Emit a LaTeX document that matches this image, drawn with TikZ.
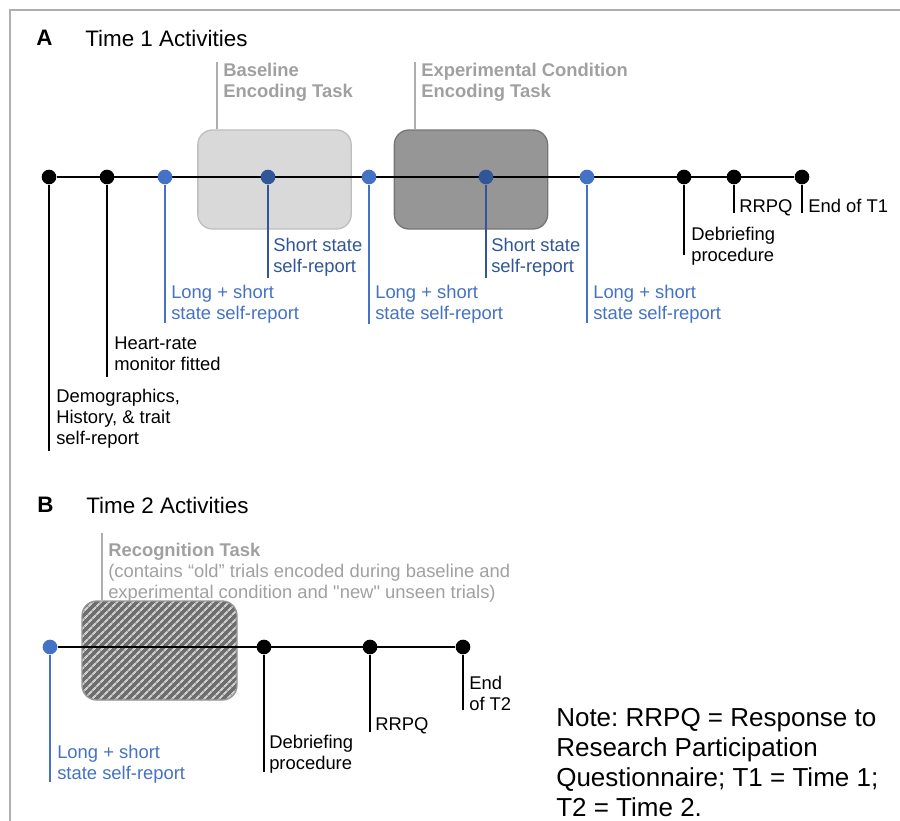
\documentclass[tikz,border=0pt]{standalone}
\usepackage{fontspec}
\setmainfont[Ligatures=TeXOff]{Liberation Sans}
\usetikzlibrary{patterns.meta,backgrounds}
\frenchspacing

\definecolor{evblue}{RGB}{68,114,196}
\definecolor{evdblue}{RGB}{48,86,152}
\definecolor{taskgray}{RGB}{160,160,160}
\definecolor{framegray}{RGB}{175,175,175}

\tikzset{
  evdot/.style={circle, fill=#1, inner sep=0pt, minimum size=11pt},
  evdot/.default=black,
  evdrop/.style={draw=#1, line width=1.5pt},
  evdrop/.default=black,
  evlbl/.style={anchor=north west, inner sep=0pt, align=left, text=#1,
    font=\fontsize{13.8pt}{15.8pt}\selectfont},
  evlbl/.default=black,
  tasklbl/.style={evlbl=taskgray},
  taskptr/.style={draw=taskgray!85, line width=1.2pt},
  taskbox/.style={rounded corners=11pt, line width=1pt,
    minimum width=115pt, minimum height=74.25pt, inner sep=0pt},
  tline/.style={line width=1.5pt},
  ttl/.style={anchor=north west, inner sep=0pt,
    font=\fontsize{16.8pt}{19pt}\selectfont}
}

\begin{document}
\begin{tikzpicture}[x=0.75pt, y=-0.75pt]
  \useasboundingbox (0,0) rectangle (900,821);
  \draw[framegray, line width=1.5pt] (10,821) -- (10,10) -- (900,10);

  % A: Time 1
  \node[ttl] (hdA) at (36,30) {\textbf{A}};
  \node[ttl] (ttlA) at (85,30) {Time 1 Activities};

  \node[evdot] (a1) at (49,177) {};
  \node[evdot] (a2) at (107,177) {};
  \node[evdot=evblue] (a3) at (165,177) {};
  \node[evdot=evdblue] (a4) at (268,177) {};
  \node[evdot=evblue] (a5) at (369,177) {};
  \node[evdot=evdblue] (a6) at (486,177) {};
  \node[evdot=evblue] (a7) at (587,177) {};
  \node[evdot] (a8) at (684,177) {};
  \node[evdot] (a9) at (734,177) {};
  \node[evdot] (a10) at (802,177) {};

  \begin{scope}[on background layer]
    \node[taskbox, fill={rgb,255:red,217;green,217;blue,217},
      draw={rgb,255:red,190;green,190;blue,190}] (basebox) at (274.5,179.5) {};
    \node[taskbox, fill={rgb,255:red,150;green,150;blue,150},
      draw={rgb,255:red,118;green,118;blue,118}] (expbox) at (471,179.5) {};
    \draw[tline] (a1) -- (a10);
  \end{scope}

  \coordinate (baseptr) at (217,62);
  \coordinate (expptr) at (415,62);
  \draw[taskptr] (basebox.north -| baseptr) -- (baseptr);
  \draw[taskptr] (expbox.north -| expptr) -- (expptr);
  \node[tasklbl] (basetxt) at (223,63) {\bfseries Baseline\\\bfseries Encoding Task};
  \node[tasklbl] (exptxt) at (421,63)
    {\bfseries Experimental Condition\\\bfseries Encoding Task};

  \coordinate (a1e) at (49,451);
  \coordinate (a2e) at (107,377);
  \coordinate (a3e) at (165,323);
  \coordinate (a4e) at (268,278);
  \coordinate (a5e) at (369,324);
  \coordinate (a6e) at (486,278);
  \coordinate (a7e) at (587,323);
  \coordinate (a8e) at (684,255);
  \coordinate (a9e) at (734,213);
  \coordinate (a10e) at (802,213);
  \draw[evdrop] (a1) -- (a1e);
  \draw[evdrop] (a2) -- (a2e);
  \draw[evdrop=evblue] (a3) -- (a3e);
  \draw[evdrop=evdblue] (a4) -- (a4e);
  \draw[evdrop=evblue] (a5) -- (a5e);
  \draw[evdrop=evdblue] (a6) -- (a6e);
  \draw[evdrop=evblue] (a7) -- (a7e);
  \draw[evdrop] (a8) -- (a8e);
  \draw[evdrop] (a9) -- (a9e);
  \draw[evdrop] (a10) -- (a10e);

  \node[evlbl] (l1) at (56,389) {Demographics,\\History, \& trait\\self-report};
  \node[evlbl] (l2) at (114,337) {Heart-rate\\monitor fitted};
  \node[evlbl=evblue] (l3) at (171,285) {Long + short\\state self-report};
  \node[evlbl=evdblue] (l4) at (273,238) {Short state\\self-report};
  \node[evlbl=evblue] (l5) at (375,285) {Long + short\\state self-report};
  \node[evlbl=evdblue] (l6) at (491,238) {Short state\\self-report};
  \node[evlbl=evblue] (l7) at (593,285) {Long + short\\state self-report};
  \node[evlbl] (l8) at (691,227) {Debriefing\\procedure};
  \node[evlbl] (l9) at (739,199) {RRPQ};
  \node[evlbl] (l10) at (808,199) {End of T1};

  % B: Time 2
  \node[ttl] (hdB) at (37,497) {\textbf{B}};
  \node[ttl] (ttlB) at (86,497) {Time 2 Activities};

  \node[evdot=evblue] (b1) at (50,647) {};
  \node[evdot] (b2) at (264,647) {};
  \node[evdot] (b3) at (370,647) {};
  \node[evdot] (b4) at (463,647) {};

  \begin{scope}[on background layer]
    \node[taskbox, minimum width=116.25pt,
      draw={rgb,255:red,150;green,150;blue,150},
      preaction={fill={rgb,255:red,110;green,110;blue,110}},
      pattern={Lines[angle=45,distance=4pt,line width=1.6pt]},
      pattern color={rgb,255:red,205;green,205;blue,205}] (recbox) at (159.5,650.5) {};
    \draw[tline] (b1) -- (b4);
  \end{scope}

  \coordinate (recptr) at (102,533);
  \draw[taskptr] (recbox.north -| recptr) -- (recptr);
  \node[tasklbl] (rectxt) at (108,543)
    {\bfseries Recognition Task\\
     (contains “old” trials encoded during baseline and\\
     experimental condition and "new" unseen trials)};

  \coordinate (b1e) at (50,782);
  \coordinate (b2e) at (264,772);
  \coordinate (b3e) at (370,732);
  \coordinate (b4e) at (463,710);
  \draw[evdrop=evblue] (b1) -- (b1e);
  \draw[evdrop] (b2) -- (b2e);
  \draw[evdrop] (b3) -- (b3e);
  \draw[evdrop] (b4) -- (b4e);

  \node[evlbl=evblue] (m1) at (57,745) {Long + short\\state self-report};
  \node[evlbl] (m2) at (269,735) {Debriefing\\procedure};
  \node[evlbl] (m3) at (375,717) {RRPQ};
  \node[evlbl] (m4) at (469,676) {End\\of T2};

  \node[anchor=north west, inner sep=0pt, align=left,
    font=\fontsize{19.5pt}{22.5pt}\selectfont] (note) at (556,708)
    {Note: RRPQ = Response to\\Research Participation\\Questionnaire; T1 = Time 1;\\T2 = Time 2.};
\end{tikzpicture}
\end{document}
